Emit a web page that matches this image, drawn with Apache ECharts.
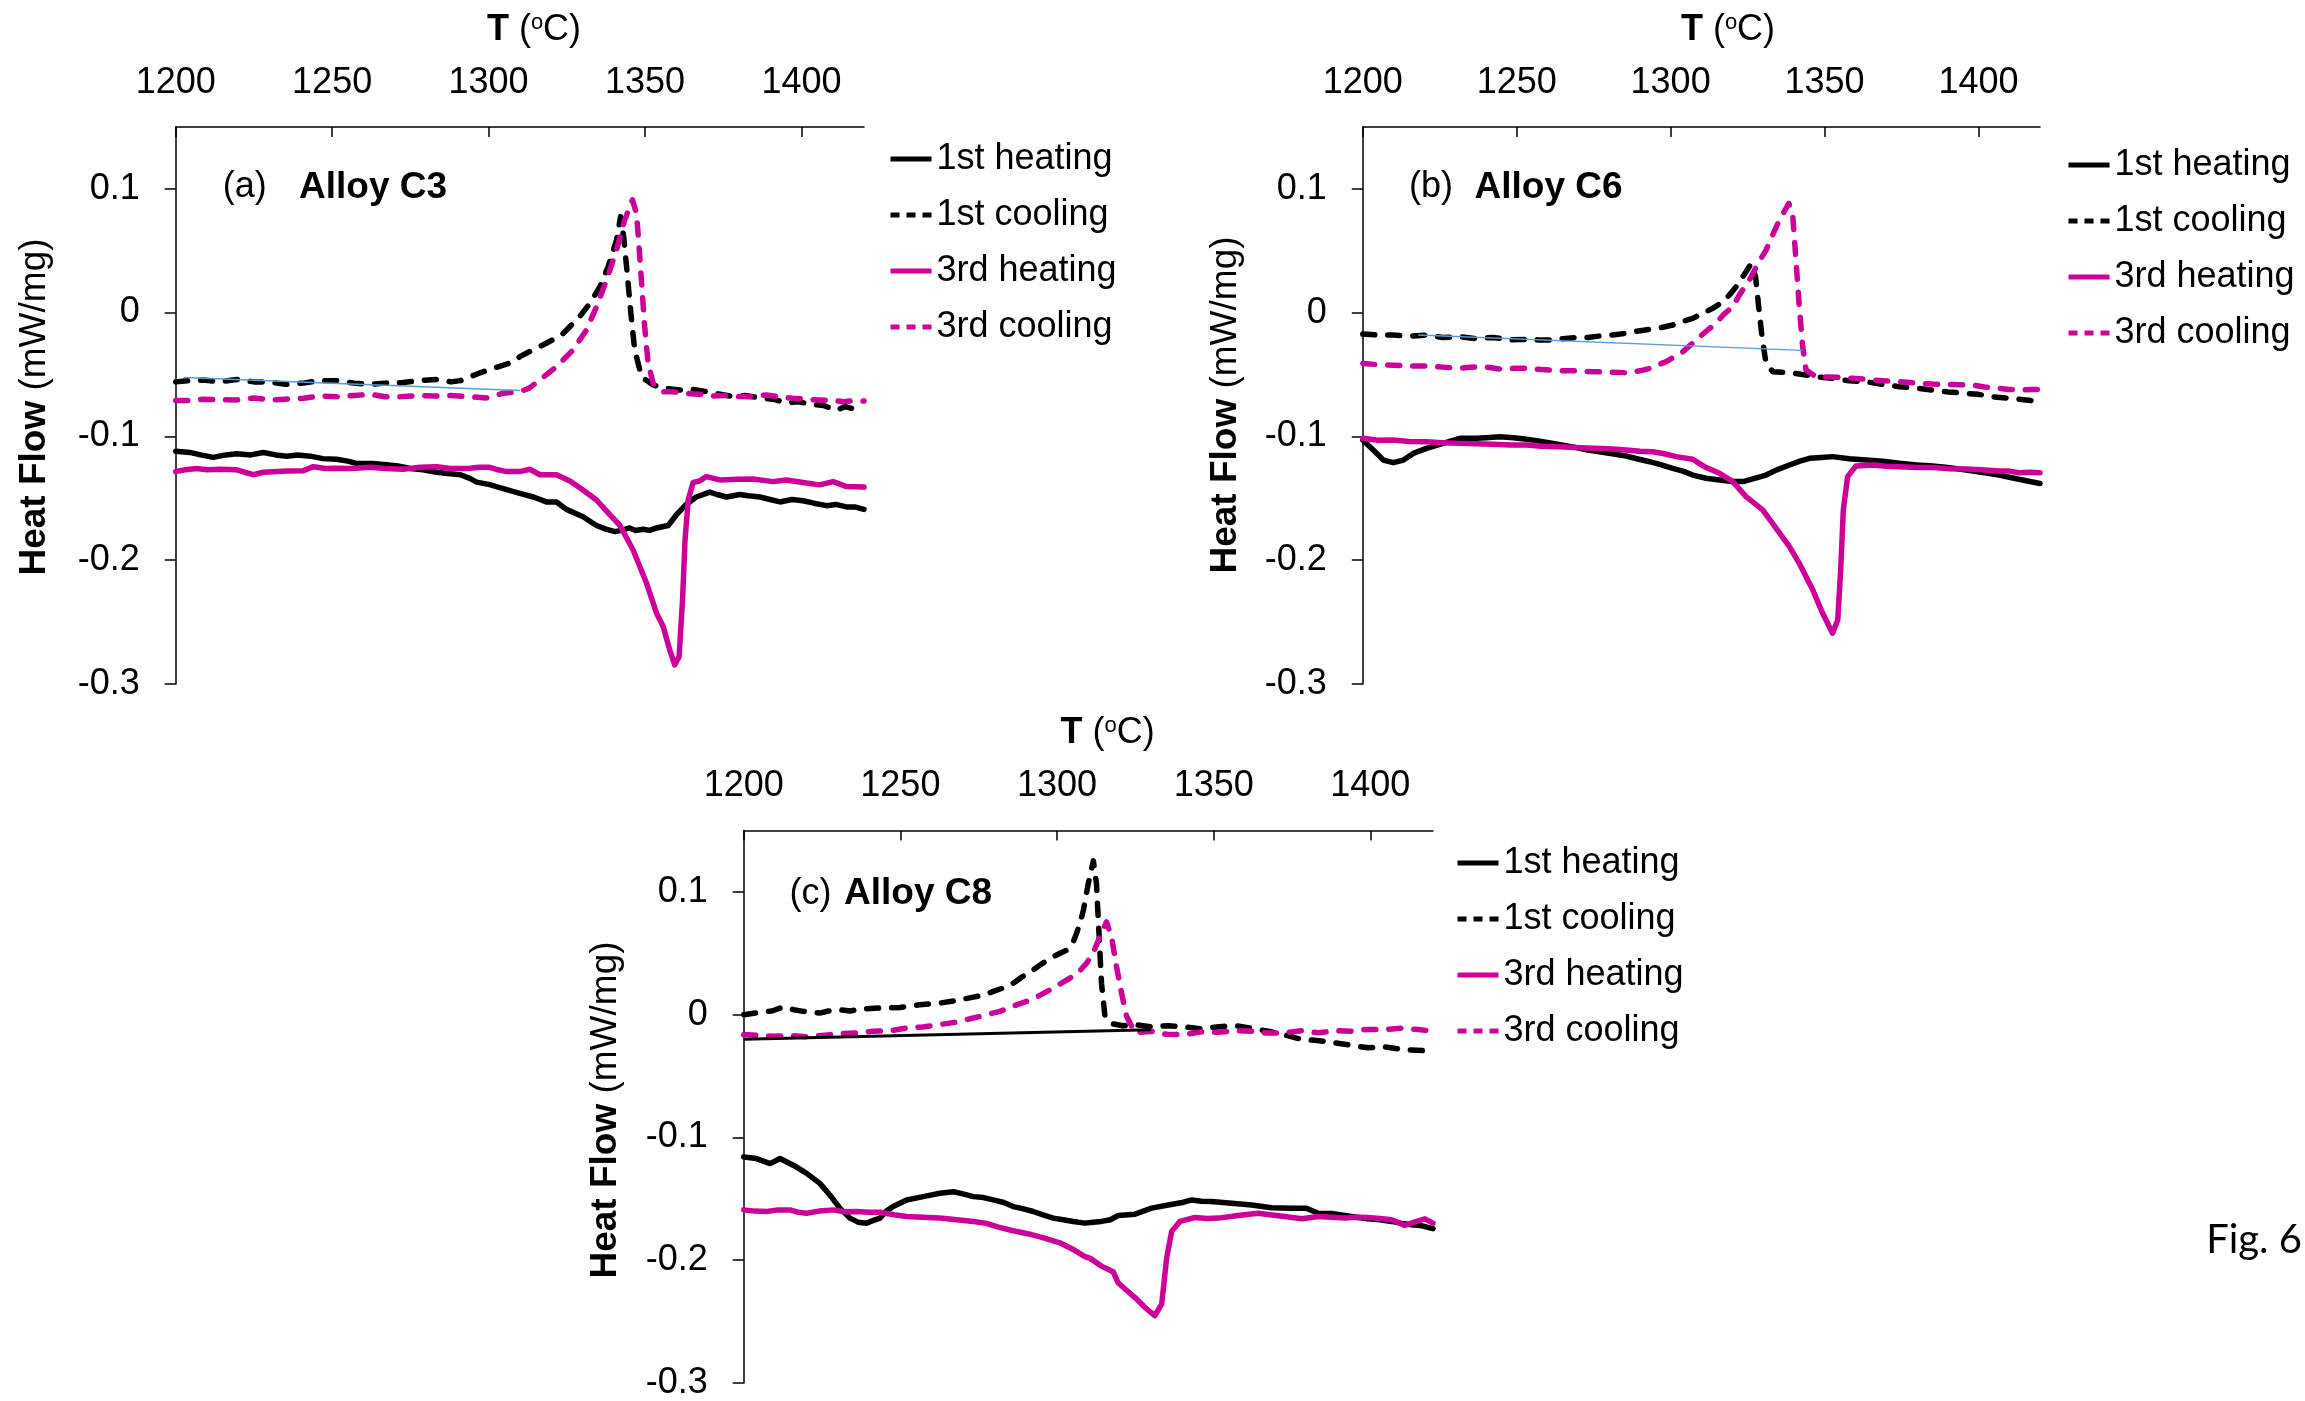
<!DOCTYPE html>
<html>
<head>
<meta charset="utf-8">
<script src="https://cdn.jsdelivr.net/npm/echarts@6/dist/echarts.min.js"></script>
<style>
  html, body { margin: 0; padding: 0; background: #ffffff; }
  #chart { width: 2305px; height: 1401px; }
</style>
</head>
<body>
<div id="chart"></div>
<script>
// DSC heat-flow traces, [temperature (°C), heat flow (mW/mg)]
const seriesNames = ['1st heating', '1st cooling', '3rd heating', '3rd cooling'];
const tempTicks = [1200, 1250, 1300, 1350, 1400];
const flowTicks = [-0.3, -0.2, -0.1, 0, 0.1];

// ---- Alloy C3 ----
const c3Heating1 = [[1200,-0.112],[1204.5,-0.113],[1208,-0.115],[1212,-0.117],[1216,-0.115],[1219.5,-0.114],[1224,-0.115],[1228,-0.113],[1232,-0.115],[1235.5,-0.116],[1239,-0.115],[1243,-0.116],[1247,-0.118],[1251.4,-0.1185],[1255,-0.12],[1258,-0.122],[1263,-0.122],[1267.4,-0.123],[1271,-0.124],[1275,-0.126],[1279,-0.127],[1283.4,-0.129],[1287,-0.13],[1291,-0.131],[1294,-0.134],[1296.2,-0.137],[1300.4,-0.139],[1303,-0.141],[1305.8,-0.143],[1310,-0.146],[1314.3,-0.149],[1318.5,-0.153],[1321.7,-0.153],[1324.9,-0.159],[1327.5,-0.162],[1330.2,-0.165],[1334.5,-0.172],[1337.5,-0.175],[1340.4,-0.177],[1342.5,-0.176],[1345.1,-0.174],[1347,-0.176],[1349.4,-0.175],[1351.5,-0.176],[1353.7,-0.174],[1357.4,-0.172],[1360,-0.1635],[1363.2,-0.155],[1366.4,-0.149],[1370.7,-0.145],[1373,-0.147],[1376,-0.149],[1380.3,-0.147],[1383,-0.148],[1386.7,-0.149],[1390,-0.151],[1393.1,-0.153],[1397,-0.151],[1400.5,-0.152],[1404,-0.154],[1408,-0.156],[1411,-0.155],[1414.4,-0.157],[1417,-0.157],[1420,-0.159]];
const c3Cooling1 = [[1200,-0.056],[1204,-0.055],[1208.8,-0.0545],[1214,-0.056],[1219.5,-0.054],[1225,-0.056],[1230.1,-0.056],[1235,-0.058],[1240.8,-0.057],[1246,-0.055],[1251.4,-0.055],[1257,-0.057],[1262.1,-0.058],[1267,-0.057],[1272.7,-0.0565],[1278,-0.055],[1283.4,-0.054],[1288,-0.056],[1291,-0.055],[1294,-0.052],[1297,-0.049],[1300.4,-0.046],[1304,-0.043],[1307.9,-0.04],[1310,-0.0356],[1313.5,-0.031],[1317.5,-0.026],[1320.5,-0.022],[1323.8,-0.017],[1326.5,-0.01],[1329.2,-0.003],[1332.4,0.0075],[1335.6,0.021],[1338.2,0.037],[1340.9,0.0586],[1342.2,0.0775],[1343.2,0.061],[1344.3,0.032],[1345.5,-0.001],[1346.7,-0.03],[1348.9,-0.052],[1352.6,-0.0585],[1356,-0.061],[1361.1,-0.0625],[1365,-0.062],[1369.6,-0.064],[1374,-0.066],[1378.2,-0.068],[1382,-0.067],[1386.7,-0.069],[1391,-0.07],[1395.2,-0.073],[1399,-0.072],[1402.7,-0.074],[1407,-0.075],[1411.2,-0.079],[1414,-0.076],[1417,-0.078],[1420,-0.078]];
const c3Heating3 = [[1200,-0.1285],[1203,-0.127],[1206.7,-0.126],[1210,-0.127],[1214.2,-0.1266],[1219.5,-0.127],[1222,-0.129],[1224.8,-0.131],[1228,-0.129],[1232.3,-0.1285],[1236,-0.128],[1240.8,-0.1277],[1244,-0.1245],[1248,-0.126],[1251.4,-0.1258],[1256,-0.126],[1262.1,-0.125],[1267,-0.126],[1272.7,-0.1266],[1278,-0.125],[1283.4,-0.1245],[1288,-0.126],[1294,-0.1258],[1297,-0.125],[1300.4,-0.125],[1303,-0.127],[1305.8,-0.1285],[1310,-0.1285],[1313.2,-0.1266],[1316.4,-0.131],[1321.7,-0.131],[1326,-0.136],[1330.2,-0.1433],[1334.5,-0.1514],[1338.8,-0.1635],[1341.9,-0.1716],[1346.2,-0.1918],[1350.5,-0.2187],[1353.7,-0.2429],[1355.8,-0.2536],[1357.9,-0.2725],[1359.5,-0.2847],[1360.9,-0.2779],[1362,-0.2322],[1362.8,-0.1837],[1363.8,-0.1514],[1365.4,-0.1373],[1367.5,-0.136],[1369.6,-0.1325],[1373.9,-0.1352],[1379.2,-0.1346],[1384.5,-0.1344],[1390.9,-0.1366],[1395.2,-0.1352],[1400.5,-0.1373],[1405.8,-0.1392],[1410.1,-0.1366],[1414.4,-0.1406],[1420,-0.141]];
const c3Cooling3 = [[1200,-0.0711],[1204,-0.071],[1208.8,-0.07],[1214,-0.0705],[1219.5,-0.0706],[1225,-0.069],[1230.1,-0.0706],[1235,-0.07],[1240.8,-0.0692],[1246,-0.0674],[1251.4,-0.068],[1257,-0.067],[1262.1,-0.066],[1267,-0.068],[1272.7,-0.0679],[1278,-0.067],[1283.4,-0.0674],[1288,-0.067],[1294,-0.068],[1299.3,-0.069],[1304.6,-0.0652],[1310,-0.064],[1313,-0.061],[1316.4,-0.0544],[1321.7,-0.0437],[1327,-0.0302],[1331.3,-0.014],[1334.5,0.0048],[1337.7,0.0263],[1340.9,0.0506],[1343.5,0.0748],[1346,0.091],[1347.3,0.08],[1348.1,0.0532],[1349,0.021],[1349.9,-0.0114],[1351,-0.041],[1352.6,-0.0571],[1355.8,-0.0639],[1359,-0.064],[1363.2,-0.0652],[1367,-0.066],[1371.8,-0.0674],[1376,-0.067],[1380.3,-0.0679],[1384,-0.068],[1388.8,-0.0666],[1393,-0.068],[1397.3,-0.0692],[1401,-0.07],[1405.8,-0.0706],[1410,-0.071],[1413.3,-0.072],[1417,-0.071],[1420,-0.0715]];
const c3Baseline = [[1202.5,-0.0525],[1310,-0.063]];

// ---- Alloy C6 ----
const c6Heating1 = [[1200,-0.1029],[1203.4,-0.111],[1206.7,-0.1191],[1209.9,-0.1212],[1213.2,-0.1191],[1216.4,-0.1137],[1220.7,-0.1096],[1226.1,-0.1056],[1231.5,-0.1015],[1236.9,-0.1015],[1240,-0.101],[1244.5,-0.1002],[1249,-0.101],[1253.2,-0.1023],[1258,-0.104],[1261.8,-0.1056],[1265,-0.107],[1269.4,-0.109],[1273,-0.111],[1276.9,-0.1123],[1281,-0.114],[1285.6,-0.1158],[1289,-0.118],[1293.2,-0.1204],[1297,-0.123],[1300.7,-0.1258],[1304,-0.128],[1307.2,-0.1312],[1311.5,-0.1338],[1315.9,-0.1352],[1320,-0.1365],[1323.5,-0.1365],[1327,-0.134],[1331,-0.1312],[1334.5,-0.127],[1338.6,-0.1231],[1342,-0.12],[1345.1,-0.1177],[1349,-0.117],[1352.6,-0.1163],[1358,-0.118],[1363.5,-0.1191],[1369,-0.12],[1374.3,-0.1217],[1380,-0.123],[1385.1,-0.1239],[1390,-0.125],[1395.9,-0.1271],[1401,-0.129],[1406.7,-0.1312],[1410,-0.133],[1414.3,-0.1352],[1420,-0.138]];
const c6Cooling1 = [[1200,-0.0173],[1205,-0.018],[1209.9,-0.0181],[1215,-0.019],[1220.7,-0.0181],[1226,-0.02],[1231.5,-0.0195],[1237,-0.021],[1242.3,-0.02],[1248,-0.022],[1253.2,-0.0216],[1257,-0.022],[1260.7,-0.0221],[1265,-0.021],[1269.4,-0.02],[1273,-0.02],[1276.9,-0.0189],[1281,-0.018],[1285.6,-0.0167],[1289,-0.015],[1293.2,-0.0135],[1297,-0.012],[1300.7,-0.01],[1304,-0.007],[1307.2,-0.0046],[1311.5,0.0007],[1314,0.004],[1317,0.0088],[1319,0.014],[1321.3,0.021],[1324.5,0.033],[1326.2,0.0398],[1327.6,0.029],[1328.6,0.0048],[1329.7,-0.0195],[1331,-0.041],[1333.2,-0.0477],[1338.6,-0.0485],[1344,-0.0504],[1348,-0.052],[1352.6,-0.0531],[1358,-0.055],[1363.5,-0.0558],[1369,-0.058],[1374.3,-0.0598],[1380,-0.061],[1385.1,-0.0625],[1390,-0.064],[1395.9,-0.0652],[1400,-0.066],[1404.5,-0.0679],[1409,-0.069],[1413.2,-0.07],[1417,-0.071],[1420,-0.073]];
const c6Heating3 = [[1200,-0.1015],[1205,-0.103],[1209.9,-0.1029],[1215,-0.104],[1220.7,-0.1042],[1226,-0.105],[1231.5,-0.1056],[1237,-0.106],[1242.3,-0.1064],[1248,-0.107],[1253.2,-0.1069],[1258,-0.108],[1264,-0.1083],[1269,-0.109],[1274.8,-0.1096],[1280,-0.11],[1285.6,-0.111],[1290,-0.112],[1294.2,-0.1123],[1298,-0.114],[1301.8,-0.1163],[1307.2,-0.1184],[1309.4,-0.122],[1311,-0.1244],[1315.9,-0.1298],[1320.2,-0.1365],[1324.5,-0.1486],[1329.9,-0.1594],[1334.3,-0.1742],[1338.6,-0.189],[1341.8,-0.2025],[1346.2,-0.2241],[1349.4,-0.2429],[1352.6,-0.259],[1354.3,-0.2483],[1355.3,-0.2052],[1356.1,-0.1594],[1357.5,-0.1325],[1360.2,-0.1239],[1365.6,-0.1231],[1370,-0.124],[1374.3,-0.1244],[1380,-0.125],[1385.1,-0.1251],[1390,-0.126],[1395.9,-0.1263],[1401,-0.127],[1406.7,-0.128],[1410,-0.128],[1413.2,-0.1293],[1417,-0.129],[1420,-0.1293]];
const c6Cooling3 = [[1200,-0.041],[1205,-0.042],[1209.9,-0.0424],[1215,-0.043],[1220.7,-0.0431],[1226,-0.044],[1231.5,-0.045],[1235,-0.044],[1239.1,-0.0437],[1244.5,-0.0455],[1249,-0.045],[1253.2,-0.045],[1258,-0.046],[1264,-0.0469],[1269,-0.047],[1274.8,-0.0477],[1280,-0.048],[1285.6,-0.0485],[1290,-0.047],[1293.2,-0.045],[1296,-0.042],[1298.6,-0.0396],[1301,-0.036],[1304,-0.0315],[1308.3,-0.0221],[1312,-0.014],[1314.8,-0.0087],[1317,-0.002],[1320.2,0.0048],[1322.5,0.015],[1325.6,0.0263],[1328,0.038],[1331,0.0506],[1335.3,0.0748],[1338.4,0.0883],[1339.7,0.0775],[1340.8,0.0398],[1341.8,0.0048],[1342.9,-0.0275],[1344,-0.0464],[1347.2,-0.0518],[1351,-0.052],[1354.8,-0.0523],[1359,-0.053],[1363.5,-0.0539],[1369,-0.055],[1374.3,-0.0558],[1380,-0.057],[1385.1,-0.0577],[1391,-0.058],[1398,-0.0585],[1402,-0.06],[1406.7,-0.0611],[1410,-0.062],[1413.2,-0.0625],[1417,-0.062],[1420,-0.062]];
const c6Baseline = [[1218,-0.018],[1343,-0.0305]];

// ---- Alloy C8 ----
const c8Heating1 = [[1200,-0.1159],[1204.1,-0.1172],[1208.4,-0.1213],[1211.6,-0.1172],[1215.8,-0.1226],[1220.1,-0.1293],[1224.3,-0.1374],[1227.5,-0.1469],[1230.7,-0.1576],[1233.9,-0.1657],[1236.5,-0.169],[1239.2,-0.1698],[1241,-0.168],[1243.5,-0.1657],[1245.5,-0.16],[1247.7,-0.1563],[1252,-0.1509],[1257.3,-0.1482],[1262.6,-0.1455],[1266.9,-0.1442],[1270,-0.146],[1273.3,-0.1482],[1276.5,-0.149],[1279.7,-0.1509],[1283,-0.153],[1286,-0.1563],[1289,-0.158],[1292.4,-0.1603],[1295.5,-0.163],[1298.8,-0.1657],[1302,-0.167],[1305.2,-0.1684],[1308.9,-0.1698],[1311.5,-0.169],[1314.2,-0.1684],[1317,-0.167],[1319.5,-0.1636],[1324.9,-0.1625],[1330.2,-0.1576],[1335.5,-0.155],[1340,-0.153],[1343,-0.1509],[1346,-0.152],[1349.3,-0.1522],[1355.7,-0.1536],[1362.1,-0.155],[1368.5,-0.1572],[1374.9,-0.1576],[1379.6,-0.1576],[1383.4,-0.1617],[1387.5,-0.162],[1391.9,-0.1636],[1395.5,-0.165],[1399.3,-0.1663],[1403,-0.167],[1406.8,-0.1684],[1410,-0.17],[1413.2,-0.1711],[1416.5,-0.172],[1420,-0.1743]];
const c8Cooling1 = [[1200,0],[1205.2,0.0019],[1209,0.003],[1212.6,0.0062],[1216,0.004],[1219,0.0027],[1224.3,0.0013],[1227,0.003],[1230.7,0.004],[1234,0.003],[1237.1,0.0046],[1243.5,0.0054],[1249.9,0.0059],[1253,0.007],[1256.2,0.0081],[1262.6,0.0094],[1268,0.0116],[1273.3,0.0143],[1276.5,0.016],[1279.7,0.0189],[1283,0.022],[1286,0.0256],[1289,0.031],[1292.4,0.0364],[1295.5,0.042],[1298.8,0.0472],[1301,0.05],[1303.1,0.0525],[1305,0.058],[1306.2,0.066],[1307.5,0.076],[1308.4,0.0849],[1310,0.107],[1311.6,0.1253],[1312.6,0.1065],[1313.4,0.066],[1314.2,0.0256],[1315.3,-0.0013],[1317.4,-0.0073],[1321,-0.009],[1324.9,-0.0081],[1330,-0.01],[1335.5,-0.009],[1341,-0.01],[1346.1,-0.0116],[1351,-0.01],[1356.8,-0.0089],[1362,-0.011],[1367.4,-0.0135],[1372,-0.016],[1378.1,-0.0202],[1383,-0.021],[1388.7,-0.0229],[1394,-0.025],[1399.3,-0.027],[1404,-0.026],[1410,-0.0283],[1415,-0.029],[1420,-0.0297]];
const c8Heating3 = [[1200,-0.159],[1203.5,-0.16],[1207.3,-0.1603],[1211,-0.159],[1214.8,-0.159],[1217.5,-0.161],[1220.1,-0.1617],[1224,-0.16],[1228.6,-0.159],[1232,-0.1605],[1236,-0.1603],[1240,-0.161],[1243.5,-0.1609],[1248,-0.163],[1252,-0.1644],[1257,-0.165],[1262.6,-0.1657],[1268,-0.167],[1273.3,-0.1684],[1277.5,-0.17],[1281.3,-0.1731],[1286,-0.176],[1291,-0.1786],[1296,-0.182],[1300.9,-0.1858],[1305,-0.191],[1308.9,-0.197],[1310.6,-0.1985],[1314.2,-0.2048],[1317.9,-0.2094],[1319.5,-0.2183],[1322,-0.224],[1324.9,-0.2304],[1328.1,-0.2385],[1331.2,-0.2452],[1333.4,-0.2358],[1335,-0.198],[1336.6,-0.1765],[1339.2,-0.1684],[1344,-0.1652],[1348,-0.166],[1351.5,-0.1657],[1357.8,-0.1636],[1364.2,-0.1617],[1368,-0.163],[1372.7,-0.1644],[1378.1,-0.1663],[1383.4,-0.1644],[1387.5,-0.165],[1391.9,-0.1657],[1395.5,-0.165],[1399.3,-0.1652],[1403,-0.166],[1406.8,-0.1671],[1411,-0.1716],[1414,-0.169],[1417.4,-0.1663],[1420,-0.1698]];
const c8Cooling3 = [[1200,-0.0162],[1205,-0.017],[1209.4,-0.0175],[1215,-0.017],[1220.1,-0.0181],[1225,-0.017],[1230.7,-0.0154],[1236,-0.015],[1241.4,-0.0135],[1247,-0.013],[1252,-0.0108],[1257,-0.01],[1262.6,-0.0081],[1268,-0.006],[1273.3,-0.0027],[1277.5,0],[1281.8,0.0027],[1286,0.007],[1290.3,0.0108],[1294,0.015],[1297.7,0.0202],[1301,0.025],[1304.1,0.0297],[1307,0.035],[1309.4,0.0418],[1311.5,0.05],[1313.2,0.0606],[1315.8,0.0755],[1317.4,0.0633],[1319,0.039],[1320.6,0.0175],[1322.2,-0.0013],[1324.9,-0.0148],[1330.2,-0.0135],[1335,-0.016],[1340.8,-0.0162],[1346,-0.014],[1351.5,-0.0143],[1357,-0.013],[1362.1,-0.0135],[1367,-0.015],[1372.7,-0.0148],[1378,-0.013],[1383.4,-0.0148],[1389,-0.013],[1394,-0.0135],[1399,-0.012],[1404.6,-0.0121],[1410,-0.011],[1415.3,-0.0121],[1420,-0.0135]];
const c8Baseline = [[1200,-0.02],[1330,-0.0123]];

// ---- layout & styling ----
const FONT = '"Liberation Sans", Arial, Helvetica, sans-serif';
const BLACK = '#000000';
const MAGENTA = '#CC0099';
const LINE_W = 5.5;
const DASH = [12, 13];

const panels = [
  { grid: { left: 175.7, top: 126.9, width: 688.3, height: 557 },
    legend: { left: 888, top: 141 }, tag: '(a)', alloy: 'Alloy C3',
    tagX: 222.7, alloyX: 299, labelY: 187.5, titleX: 534, titleY: 30, nameX: 34.5, nameY: 407,
    curves: [c3Heating1, c3Cooling1, c3Heating3, c3Cooling3],
    base: c3Baseline, baseColor: '#5B9BD5', baseWidth: 1.4 },
  { grid: { left: 1362.8, top: 127, width: 677.2, height: 557 },
    legend: { left: 2066, top: 147 }, tag: '(b)', alloy: 'Alloy C6',
    tagX: 1409, alloyX: 1474.5, labelY: 187.5, titleX: 1728, titleY: 30, nameX: 1225.7, nameY: 405,
    curves: [c6Heating1, c6Cooling1, c6Heating3, c6Cooling3],
    base: c6Baseline, baseColor: '#5B9BD5', baseWidth: 1.4 },
  { grid: { left: 743.7, top: 830.5, width: 689.3, height: 556.5 },
    legend: { left: 1455, top: 845 }, tag: '(c)', alloy: 'Alloy C8',
    tagX: 789.6, alloyX: 844, labelY: 894, titleX: 1107.6, titleY: 733, nameX: 606, nameY: 1110,
    curves: [c8Heating1, c8Cooling1, c8Heating3, c8Cooling3],
    base: c8Baseline, baseColor: BLACK, baseWidth: 3 }
];

const curveStyles = [
  { color: BLACK, type: 'solid' },
  { color: BLACK, type: DASH },
  { color: MAGENTA, type: 'solid' },
  { color: MAGENTA, type: DASH }
];

const grids = [], xAxes = [], yAxes = [], legends = [], series = [], graphics = [];

panels.forEach((p, i) => {
  grids.push(Object.assign({ containLabel: false }, p.grid));

  xAxes.push({
    type: 'value', gridIndex: i, position: 'top',
    min: 1200, max: 1420, interval: 50,
    axisLine: { show: true, onZero: false, lineStyle: { color: BLACK, width: 1.5 } },
    axisTick: { show: true, inside: true, length: 10, customValues: tempTicks, lineStyle: { color: BLACK, width: 1.5 } },
    axisLabel: { show: true, customValues: tempTicks, margin: 26, fontSize: 36, color: BLACK, fontFamily: FONT,
      formatter: v => String(Math.round(v)) },
    splitLine: { show: false }
  });

  yAxes.push({
    type: 'value', gridIndex: i, position: 'left',
    min: -0.3, max: 0.15, interval: 0.1,
    axisLine: { show: true, onZero: false, lineStyle: { color: BLACK, width: 1.5 } },
    axisTick: { show: true, inside: false, length: 11, customValues: flowTicks, lineStyle: { color: BLACK, width: 1.5 } },
    axisLabel: { show: true, customValues: flowTicks, margin: 36, fontSize: 36, color: BLACK, fontFamily: FONT,
      formatter: v => String(Math.round(v * 10) / 10) },
    splitLine: { show: false }
  });

  // legend keys are plain line samples (no point marker)
  legends.push({
    orient: 'vertical', left: p.legend.left, top: p.legend.top, padding: 0,
    itemWidth: 41, itemHeight: 14, itemGap: 20,
    selectedMode: false,
    textStyle: { fontSize: 36, color: BLACK, fontFamily: FONT },
    data: seriesNames.map((n, k) => ({
      name: n,
      itemStyle: { opacity: 0 },
      lineStyle: k % 2 === 1 ? { type: [9, 7], width: 5, cap: 'butt' } : { width: 5, cap: 'butt' }
    }))
  });

  p.curves.forEach((data, k) => {
    series.push({
      type: 'line', name: seriesNames[k], xAxisIndex: i, yAxisIndex: i,
      data: data, symbol: 'none', showSymbol: false, smooth: false,
      lineStyle: { color: curveStyles[k].color, width: LINE_W, type: curveStyles[k].type, cap: 'round', join: 'round' },
      itemStyle: { color: curveStyles[k].color },
      emphasis: { disabled: true }, silent: true, animation: false
    });
  });

  series.push({
    type: 'line', name: 'baseline-' + i, xAxisIndex: i, yAxisIndex: i,
    data: p.base, symbol: 'none', showSymbol: false,
    lineStyle: { color: p.baseColor, width: p.baseWidth },
    emphasis: { disabled: true }, silent: true, animation: false
  });

  // axis title above the temperature axis
  graphics.push({
    type: 'text', x: p.titleX, y: p.titleY, silent: true,
    style: {
      text: '{b|T }{n|(}{o|o}{n|C)}', align: 'center', verticalAlign: 'middle',
      rich: {
        b: { fontSize: 36, fontWeight: 'bold', fontFamily: FONT, fill: BLACK },
        n: { fontSize: 36, fontFamily: FONT, fill: BLACK },
        o: { fontSize: 22, fontFamily: FONT, fill: BLACK, verticalAlign: 'top' }
      }
    }
  });

  // vertical heat-flow axis title
  graphics.push({
    type: 'text', x: p.nameX, y: p.nameY, rotation: Math.PI / 2, silent: true,
    style: {
      text: '{b|Heat Flow }{n|(mW/mg)}', align: 'center', verticalAlign: 'middle',
      rich: {
        b: { fontSize: 37, fontWeight: 'bold', fontFamily: FONT, fill: BLACK },
        n: { fontSize: 37, fontFamily: FONT, fill: BLACK }
      }
    }
  });

  // panel tag and alloy name
  graphics.push({
    type: 'text', x: p.tagX, y: p.labelY, silent: true,
    style: { text: p.tag, fontSize: 36, fontFamily: FONT, fill: BLACK, align: 'left', verticalAlign: 'middle' }
  });
  graphics.push({
    type: 'text', x: p.alloyX, y: p.labelY, silent: true,
    style: { text: p.alloy, fontSize: 37, fontWeight: 'bold', fontFamily: FONT, fill: BLACK, align: 'left', verticalAlign: 'middle' }
  });
});

graphics.push({
  type: 'text', x: 2302, y: 1240, silent: true,
  style: { text: 'Fig. 6', fontSize: 40, fontFamily: 'Lato, "Open Sans", sans-serif', fill: BLACK, align: 'right', verticalAlign: 'middle' }
});

const chart = echarts.init(document.getElementById('chart'), null, { renderer: 'canvas', width: 2305, height: 1401 });
chart.setOption({
  backgroundColor: '#ffffff',
  animation: false,
  grid: grids,
  xAxis: xAxes,
  yAxis: yAxes,
  legend: legends,
  series: series,
  graphic: graphics
});
</script>
</body>
</html>
